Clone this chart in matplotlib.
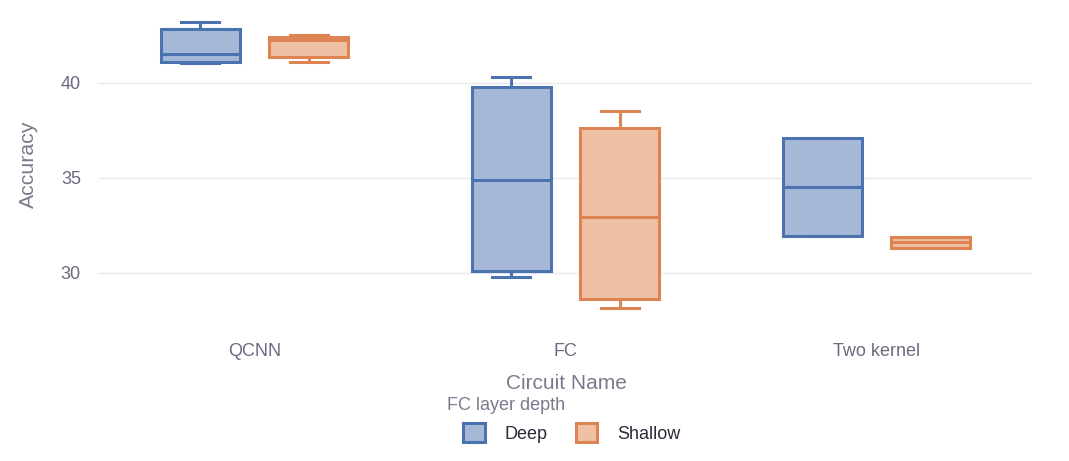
import matplotlib
matplotlib.use("Agg")
import matplotlib.pyplot as plt
from matplotlib.patches import Patch

plt.rcParams['font.family'] = ['Liberation Sans', 'DejaVu Sans']

categories = ["QCNN", "FC", "Two kernel"]
groups = ["Deep", "Shallow"]
# per group: [whislo, q1, med, q3, whishi] for each category
deep_stats = [
    [41.04, 41.12, 41.54, 42.84, 43.23],
    [29.77, 30.13, 34.90, 39.81, 40.33],
    [31.96, 31.96, 34.54, 37.12, 37.12],
]
shallow_stats = [
    [41.12, 41.38, 42.26, 42.44, 42.53],
    [28.17, 28.61, 32.93, 37.65, 38.51],
    [31.30, 31.30, 31.63, 31.90, 31.90],
]
line_colors = ["#4C72B0", "#DD8452"]
fill_colors = ["#A5B8D8", "#EEC1A5"]

W, H = 1069, 461
fig = plt.figure(figsize=(W / 100, H / 100), dpi=100)
left, right, top, bottom = 99, 1032, 7, 322
ax = fig.add_axes([left / W, 1 - bottom / H, (right - left) / W, (bottom - top) / H])

offsets = [-0.175, 0.175]
for g, stats_all in enumerate([deep_stats, shallow_stats]):
    stats = []
    for s in stats_all:
        stats.append(dict(whislo=s[0], q1=s[1], med=s[2], q3=s[3], whishi=s[4], fliers=[]))
    pos = [i + offsets[g] for i in range(len(categories))]
    ax.bxp(stats, positions=pos, widths=0.254, patch_artist=True, showfliers=False,
           boxprops=dict(facecolor=fill_colors[g], edgecolor=line_colors[g], linewidth=2.2),
           medianprops=dict(color=line_colors[g], linewidth=2.2),
           whiskerprops=dict(color=line_colors[g], linewidth=2.2),
           capprops=dict(color=line_colors[g], linewidth=2.2),
           capwidths=0.122, manage_ticks=False)

ax.set_xlim(-0.5, 2.5)
ax.set_ylim(27.42, 44.0)
ax.set_xticks(range(len(categories)))
ax.set_xticklabels(categories)
ax.set_yticks([30, 35, 40])
ax.grid(axis='y', color='#E6E8EE', linewidth=1)
ax.set_axisbelow(True)
for sp in ax.spines.values():
    sp.set_visible(False)
ax.tick_params(axis='both', length=0, labelsize=13, labelcolor='#6B6B80')
ax.tick_params(axis='x', pad=15)
ax.tick_params(axis='y', pad=13)

fig.text(28 / W, 1 - 164 / H, "Accuracy", rotation=90, ha='center', va='center',
         fontsize=15.3, color='#7A7A8C')
fig.text(566 / W, 1 - 383 / H, "Circuit Name", ha='center', va='center',
         fontsize=15, color='#7A7A8C')
fig.text(447 / W, 1 - 405 / H, "FC layer depth", ha='left', va='center',
         fontsize=13, color='#7A7A8C')

handles = [Patch(facecolor=fill_colors[i], edgecolor=line_colors[i], linewidth=2.2, label=groups[i])
           for i in range(2)]
leg = fig.legend(handles=handles, ncol=2, loc='center left',
                 bbox_to_anchor=(463 / W, 1 - 433 / H), frameon=False, fontsize=13,
                 borderpad=0, borderaxespad=0, handlelength=1.2, handleheight=1.2,
                 columnspacing=1.55, handletextpad=1.1)
for t in leg.get_texts():
    t.set_color('#2A2A3A')

fig.savefig("out.png", dpi=100)
